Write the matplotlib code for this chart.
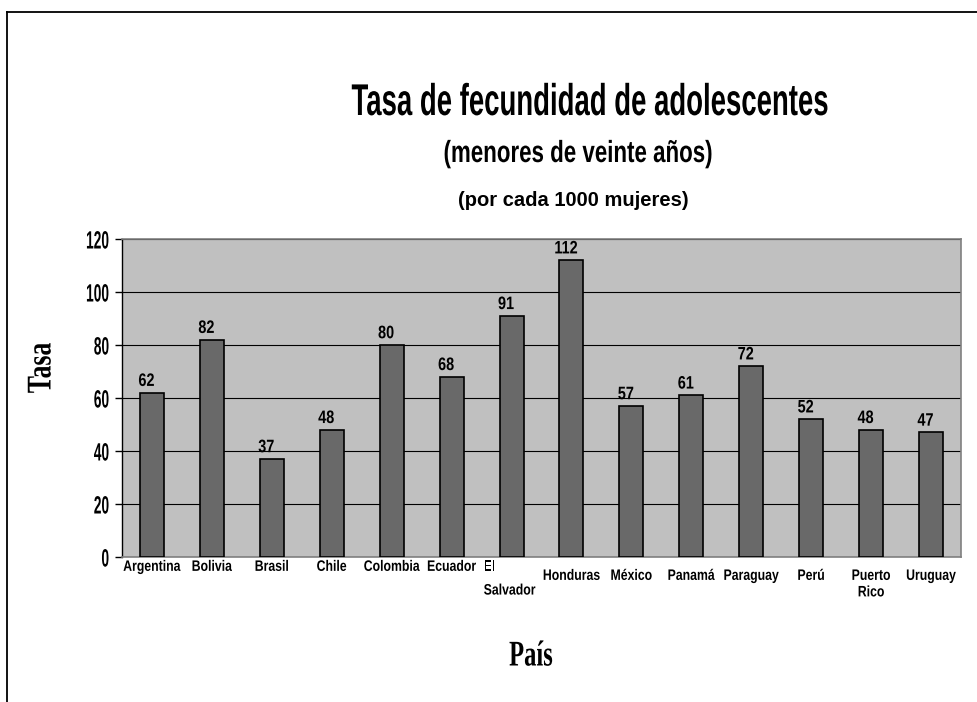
import numpy as np
import matplotlib
matplotlib.use("Agg")
import matplotlib.pyplot as plt
from matplotlib.patheffects import AbstractPathEffect
from matplotlib.transforms import Affine2D
from matplotlib.lines import Line2D

# ---------------- data ----------------
paises = ["Argentina", "Bolivia", "Brasil", "Chile", "Colombia", "Ecuador",
          "El\nSalvador", "Honduras", "México", "Panamá", "Paraguay", "Perú",
          "Puerto\nRico", "Uruguay"]
tasas = [62, 82, 37, 48, 80, 68, 91, 112, 57, 61, 72, 52, 48, 47]
yticks = [0, 20, 40, 60, 80, 100, 120]
titulo = "Tasa de fecundidad de adolescentes"
subtitulo = "(menores de veinte años)"
subtitulo2 = "(por cada 1000 mujeres)"
ylabel = "Tasa"
xlabel = "País"


class Squeeze(AbstractPathEffect):
    """Rescale glyph outlines (text stays a Text artist)."""
    def __init__(self, sx, anchor="center", sy=1.0):
        super().__init__()
        self.sx = sx
        self.sy = sy
        self.anchor = anchor

    def draw_path(self, renderer, gc, tpath, affine, rgbFace=None):
        ext = tpath.get_extents()
        if self.anchor == "center":
            cx = (ext.x0 + ext.x1) / 2
        elif self.anchor == "right":
            cx = ext.x1
        else:
            cx = ext.x0
        t = (Affine2D().translate(-cx, 0).scale(self.sx, self.sy).translate(cx, 0)
             + affine)
        renderer.draw_path(gc, tpath, t, rgbFace)


W, H = 978, 702
fig = plt.figure(figsize=(W / 100, H / 100), dpi=100)
fig.patch.set_facecolor("white")
renderer = fig.canvas.get_renderer()


def fit_width(text, target_px):
    w = text.get_window_extent(renderer).width
    text.set_path_effects([Squeeze(target_px / w)])


# frame lines of the chart object
fig.add_artist(Line2D([7 / W, 7 / W], [0, 1 - 12 / H], transform=fig.transFigure,
                      color="black", lw=1.3))
fig.add_artist(Line2D([7 / W, 1], [1 - 12 / H, 1 - 12 / H], transform=fig.transFigure,
                      color="black", lw=1.3))

left, right = 122 / W, 961 / W
bottom, top = 1 - 557 / H, 1 - 239 / H
ax = fig.add_axes([left, bottom, right - left, top - bottom])
ax.set_facecolor("#C0C0C0")

x = np.arange(len(paises))
ax.bar(x, tasas, width=0.4, color="#696969", edgecolor="black", linewidth=1.2, zorder=3)
ax.set_xlim(-0.5, len(paises) - 0.5)
ax.set_ylim(0, 120)

ax.set_yticks(yticks)
ax.yaxis.grid(True, color="black", lw=0.8, zorder=1)
ax.set_axisbelow(True)
for s in ["top", "right", "bottom"]:
    ax.spines[s].set_color("#808080")
    ax.spines[s].set_linewidth(1.2)
ax.spines["left"].set_color("black")
ax.spines["left"].set_linewidth(1.0)
ax.tick_params(axis="y", direction="out", length=5, width=1, color="black",
               pad=4, labelsize=18)
for lbl in ax.get_yticklabels():
    lbl.set_fontfamily("Liberation Sans")
    lbl.set_fontweight("bold")
    lbl.set_path_effects([Squeeze(0.55, "right")])

# category labels
ax.set_xticks(x)
ax.set_xticklabels(paises, fontsize=9.5, fontweight="bold", fontfamily="Liberation Sans")
ax.tick_params(axis="x", length=0)
for i, (tick, lbl) in enumerate(zip(ax.xaxis.get_major_ticks(), ax.get_xticklabels())):
    tick.set_pad(3.5 if i < 7 else 10.0)
    lbl.set_linespacing(2.3 if i == 6 else 1.5)
    if i == 6:
        lbl.set_multialignment("left")
        lbl.set_path_effects([Squeeze(0.93, "left", 1.15)])
    else:
        lbl.set_path_effects([Squeeze(0.93, "center", 1.15)])

# value labels
for xi, v in zip(x, tasas):
    t = ax.annotate(str(v), (xi, v), xytext=(-4, 2), textcoords="offset points",
                    ha="center", va="bottom", fontsize=13, fontweight="bold",
                    fontfamily="Liberation Sans", zorder=5)
    t.set_path_effects([Squeeze(0.8)])

# titles
t1 = fig.text(591 / W, 1 - 115 / H, titulo, ha="center", va="baseline", fontsize=32,
              fontweight="bold", fontfamily="Liberation Sans")
fit_width(t1, 478)
t2 = fig.text(578 / W, 1 - 162 / H, subtitulo, ha="center", va="baseline", fontsize=22,
              fontweight="bold", fontfamily="Liberation Sans")
fit_width(t2, 269)
fig.text(573 / W, 1 - 206 / H, subtitulo2, ha="center", va="baseline", fontsize=14.5,
         fontweight="bold", fontfamily="Liberation Sans")

fig.text(42 / W, 1 - 368 / H, ylabel, ha="center", va="center", rotation=90,
         fontsize=25, fontweight="bold",
         fontfamily="Liberation Serif").set_path_effects([Squeeze(0.74)])
fig.text(531 / W, 1 - 657 / H, xlabel, ha="center", va="center", fontsize=26,
         fontweight="bold", fontfamily="Liberation Serif").set_path_effects([Squeeze(0.68)])

fig.savefig("out.png", dpi=100, facecolor="white")
